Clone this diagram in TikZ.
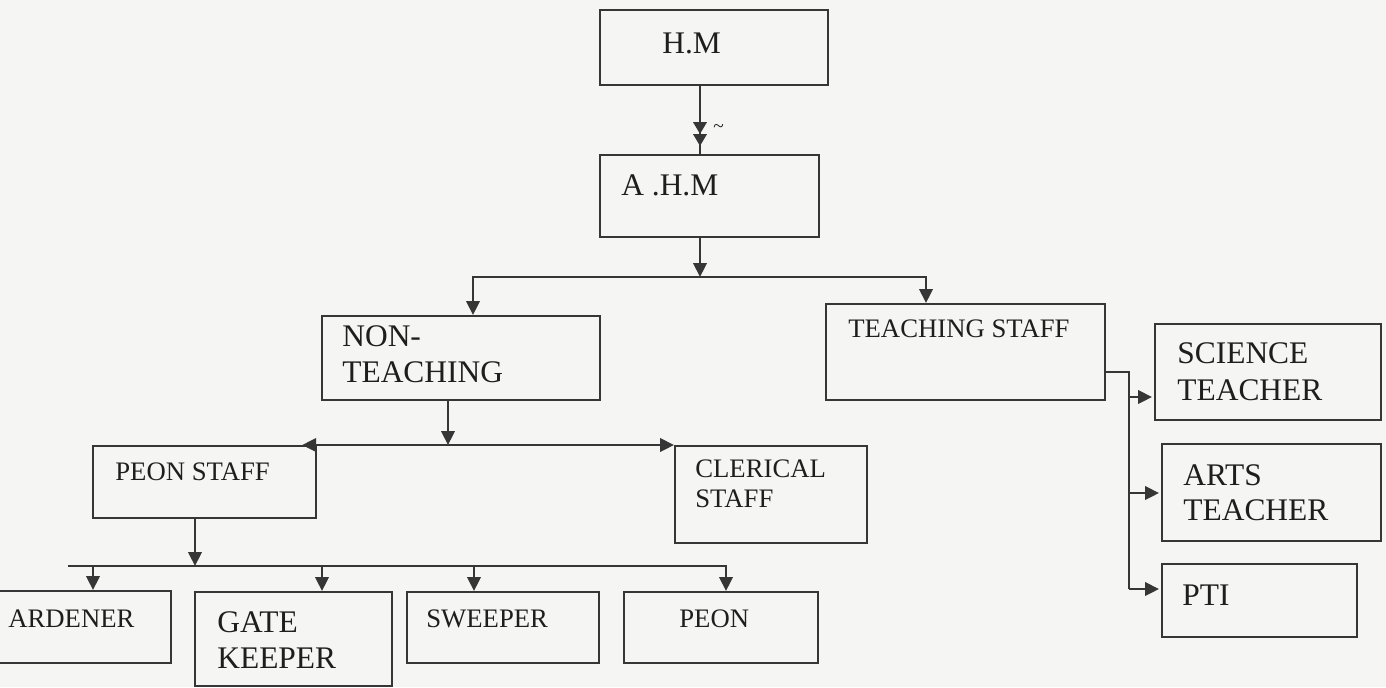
\documentclass[tikz,border=0pt]{standalone}
\usepackage{fontspec}
\setmainfont{Liberation Serif}
\usetikzlibrary{arrows.meta,positioning}
\definecolor{ink}{HTML}{1E1E1E}
\definecolor{wire}{HTML}{363636}
\definecolor{paper}{HTML}{F5F5F3}
\newcommand{\px}{0.02cm}
\tikzset{
  >={Triangle[length=2.8mm,width=2.7mm]},
  box/.style={draw=wire,line width=0.44mm,inner sep=0pt,anchor=north west},
  big/.style={font=\fontsize{17.9}{20.5}\selectfont,text=ink,anchor=base west,inner sep=0pt},
  small/.style={font=\fontsize{15.2}{17}\selectfont,text=ink,anchor=base west,inner sep=0pt},
  link/.style={draw=wire,line width=0.44mm},
  arrow/.style={link,->}
}

\begin{document}
\begin{tikzpicture}[x=\px,y=-\px]
  \useasboundingbox (0,0) rectangle (1386,687);
  \fill[paper] (0,0) rectangle (1386,687);
  \clip (0,0) rectangle (1386,687);

  % boxes
  \node[box,minimum width=228*\px,minimum height=75*\px] (hm) at (599,9) {};
  \node[box,minimum width=219*\px,minimum height=82*\px] (ahm) at (599,154) {};
  \node[box,minimum width=278*\px,minimum height=84*\px] (nonteach) at (321,315) {};
  \node[box,minimum width=279*\px,minimum height=96*\px] (teach) at (825,303) {};
  \node[box,minimum width=226*\px,minimum height=96*\px] (sci) at (1154,323) {};
  \node[box,minimum width=219*\px,minimum height=97*\px] (arts) at (1161,443) {};
  \node[box,minimum width=195*\px,minimum height=73*\px] (pti) at (1161,563) {};
  \node[box,minimum width=223*\px,minimum height=72*\px] (peonstaff) at (92,445) {};
  \node[box,minimum width=192*\px,minimum height=97*\px] (clerical) at (674,445) {};
  \node[box,minimum width=180*\px,minimum height=72*\px] (ardener) at (-10,590) {};
  \node[box,minimum width=197*\px,minimum height=94*\px] (gate) at (194,591) {};
  \node[box,minimum width=192*\px,minimum height=71*\px] (sweeper) at (406,591) {};
  \node[box,minimum width=194*\px,minimum height=71*\px] (peon) at (623,591) {};

  % texts
  \node[big] (hm-t) at (662,53) {H.M};
  \node[big] (ahm-t) at (621,195) {A .H.M};
  \node[big] (nonteach-t1) at (342,346) {NON-};
  \node[big] (nonteach-t2) at (342,382) {TEACHING};
  \node[small] (teach-t) at (848,337) {TEACHING STAFF};
  \node[big] (sci-t1) at (1177,363) {SCIENCE};
  \node[big] (sci-t2) at (1177,400) {TEACHER};
  \node[big] (arts-t1) at (1183,485) {ARTS};
  \node[big] (arts-t2) at (1183,520) {TEACHER};
  \node[big] (pti-t) at (1182,605) {PTI};
  \node[small] (peonstaff-t) at (115,480) {PEON STAFF};
  \node[small] (clerical-t1) at (695,477) {CLERICAL};
  \node[small] (clerical-t2) at (695,507) {STAFF};
  \node[small] (ardener-t) at (8,627) {ARDENER};
  \node[big] (gate-t1) at (217,632) {GATE};
  \node[big] (gate-t2) at (217,668) {KEEPER};
  \node[small] (sweeper-t) at (426,627) {SWEEPER};
  \node[small] (peon-t) at (679,627) {PEON};
  \node[small,font=\fontsize{11}{12}\selectfont] (tilde) at (713,132) {\textasciitilde};

  % joints
  \coordinate (spine) at (700,0);
  \coordinate (split) at (700,277);
  \coordinate (nsplit) at (448,445);
  \coordinate (psplit) at (195,566);
  \coordinate (tj) at (1129,372);

  % head to assistant
  \draw[link] (spine |- hm.south) -- (spine |- ahm.north);
  \draw[link,-{Triangle[length=2.4mm,width=2.7mm]Triangle[length=2.4mm,width=2.7mm,sep=-0.6mm]}]
    (spine |- hm.south) -- ([yshift=11*\px]spine |- ahm.north);

  % staff split
  \draw[arrow] (spine |- ahm.south) -- (split);
  \draw[arrow] (split) -| (nonteach.north -| 473,0);
  \draw[arrow] (split) -| (teach.north -| 926,0);

  % non-teaching
  \draw[arrow] (nsplit |- nonteach.south) -- (nsplit);
  \draw[arrow] (nsplit) -- ([xshift=-15*\px]peonstaff.north east);
  \draw[arrow] (nsplit) -- (clerical.north west);

  % peon staff
  \draw[arrow] (psplit |- peonstaff.south) -- (psplit);
  \draw[link] (68,566) -- (727,566);
  \foreach \b/\x in {ardener/93,gate/322,sweeper/474,peon/726}
    \draw[arrow] (\x,566) -- (\b.north -| \x,0);

  % teaching staff
  \draw[link] (teach.east |- tj) -- (tj) -- (tj |- 0,589);
  \foreach \b/\y in {sci/397,arts/493,pti/589}
    \draw[arrow] (tj |- 0,\y) -- ([xshift=-2*\px]\b.west |- 0,\y);
\end{tikzpicture}
\end{document}
